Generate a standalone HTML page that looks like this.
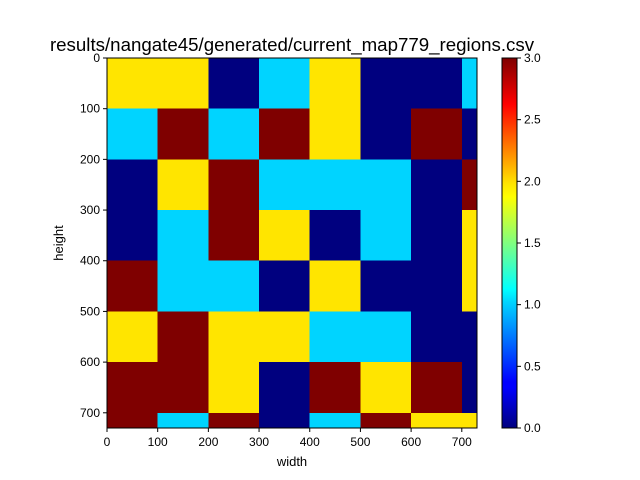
<!DOCTYPE html>
<html><head><meta charset="utf-8"><style>body{margin:0;background:#fff}svg{display:block;font-family:"Liberation Sans",sans-serif}</style></head>
<body>
<svg id="c" width="640" height="480"></svg>
<script>
const xTicks=[0,100,200,300,400,500,600,700];
const yTicks=[0,100,200,300,400,500,600,700];
const cbTicks=[0.0,0.5,1.0,1.5,2.0,2.5,3.0];
const cellSize=100;
const extent=730;
const grid=[
[2,2,0,1,2,0,0,1],
[1,3,1,3,2,0,3,0],
[0,2,3,1,1,1,0,3],
[0,1,3,2,0,1,0,2],
[3,1,1,0,2,0,0,2],
[2,3,2,2,1,1,0,0],
[3,3,2,0,3,2,3,0],
[3,1,3,0,1,3,2,2]
];
const palette=['#00007f','#00d4ff','#ffe500','#7f0000'];
const NS='http://www.w3.org/2000/svg';
const svg=document.getElementById('c');
function mk(t,a,p){const e=document.createElementNS(NS,t);for(const k in a)e.setAttribute(k,a[k]);(p||svg).appendChild(e);return e;}
const L=107,R=477,T=58,B=428;
const sx=v=>L+(R-L)*v/extent, sy=v=>T+(B-T)*v/extent;
grid.forEach((row,i)=>row.forEach((v,j)=>{
 const x0=sx(j*cellSize),x1=sx(Math.min((j+1)*cellSize,extent));
 const y0=sy(i*cellSize),y1=sy(Math.min((i+1)*cellSize,extent));
 const r=mk('rect',{x:x0,y:y0,width:x1-x0,height:y1-y0,fill:palette[v],'shape-rendering':'crispEdges'});
 
 
}));
const fr=mk('rect',{x:L,y:T,width:R-L,height:B-T,fill:'none',stroke:'#000','stroke-width':1});

xTicks.forEach(t=>{const x=sx(t);mk('line',{x1:x,x2:x,y1:B,y2:B+4,stroke:'#000'});
 const tx=mk('text',{x:x,y:B+18,'text-anchor':'middle','font-size':12});tx.textContent=t;
 });
yTicks.forEach(t=>{const y=sy(t);mk('line',{x1:L-4,x2:L,y1:y,y2:y,stroke:'#000'});
 const tx=mk('text',{x:L-7,y:y+4,'text-anchor':'end','font-size':12});tx.textContent=t;
 });
let t=mk('text',{x:292,y:466,'text-anchor':'middle','font-size':13});t.textContent='width';

t=mk('text',{x:63,y:243,'text-anchor':'middle','font-size':13,transform:'rotate(-90 63 243)'});t.textContent='height';

t=mk('text',{x:292,y:51,'text-anchor':'middle','font-size':18.7});t.textContent='results/nangate45/generated/current_map779_regions.csv';

const defs=mk('defs',{});
const g=mk('linearGradient',{id:'jet',x1:0,y1:1,x2:0,y2:0},defs);
[[0,'#00007f'],[0.11,'#0000ff'],[0.125,'#0000ff'],[0.34,'#00d4ff'],[0.375,'#0ff'],[0.625,'#ff0'],[0.66,'#ffe500'],[0.875,'#f00'],[1,'#7f0000']].forEach(s=>mk('stop',{offset:s[0],'stop-color':s[1]},g));
const CL=502,CR=517;
const cb=mk('rect',{x:CL,y:T,width:CR-CL,height:B-T,fill:'url(#jet)',stroke:'#000'});

cbTicks.forEach(v=>{const y=B-(B-T)*v/3;mk('line',{x1:CR,x2:CR+4,y1:y,y2:y,stroke:'#000'});
 const tx=mk('text',{x:CR+7,y:y+4,'font-size':12});tx.textContent=v.toFixed(1);
 });
</script>
</body></html>
